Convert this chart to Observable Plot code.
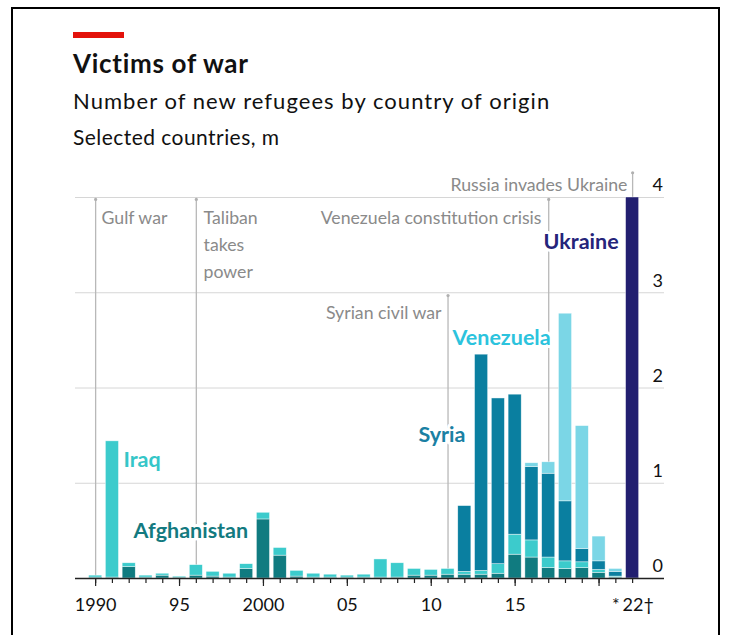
<!DOCTYPE html>
<html>
<head>
<meta charset="utf-8">
<script src="https://cdn.jsdelivr.net/npm/d3@7"></script>
<script src="https://cdn.jsdelivr.net/npm/@observablehq/plot@0.6"></script>
<style>
  body { margin: 0; background: #fff; font-family: Lato, "Noto Sans", sans-serif; }
  #wrap { position: relative; width: 735px; height: 635px; overflow: hidden; background: #fff; }
  #frame { position: absolute; left: 11px; top: 7px; width: 709px; height: 700px; border: 2px solid #000; box-sizing: border-box; }
  #red { position: absolute; left: 73px; top: 32px; width: 51px; height: 6px; background: #e3120b; }
  .t { position: absolute; left: 73px; line-height: 1; white-space: nowrap; color: #111; }
  #title { top: 50px; font-size: 26px; font-weight: 700; letter-spacing: 0.7px; }
  #sub { top: 90px; font-size: 22px; letter-spacing: 1.05px; }
  #sub2 { top: 126px; font-size: 21px; letter-spacing: 0.45px; }
  #chart { position: absolute; left: 0; top: 160px; }
</style>
</head>
<body>
<div id="wrap">
  <div id="frame"></div>
  <div id="red"></div>
  <div class="t" id="title">Victims of war</div>
  <div class="t" id="sub">Number of new refugees by country of origin</div>
  <div class="t" id="sub2">Selected countries, m</div>
  <div id="chart"></div>
</div>
<script>
// ---- data (millions of new refugees) ----
const years = [1990,1991,1992,1993,1994,1995,1996,1997,1998,1999,2000,2001,2002,2003,2004,2005,2006,2007,2008,2009,2010,2011,2012,2013,2014,2015,2016,2017,2018,2019,2020,2021,2022];
const afghanistan = [0.01,0.01,0.12,0.01,0.03,0.01,0.03,0.02,0.01,0.10,0.62,0.24,0.02,0.01,0.01,0.01,0.01,0.01,0.01,0.03,0.03,0.04,0.04,0.04,0.05,0.25,0.22,0.11,0.10,0.11,0.06,0.01,0];
const iraq        = [0.02,1.43,0.04,0.02,0.02,0.01,0.11,0.05,0.04,0.05,0.07,0.08,0.06,0.04,0.03,0.02,0.03,0.19,0.15,0.07,0.06,0.06,0.03,0.04,0.10,0.21,0.18,0.11,0.08,0.06,0.03,0.01,0];
const syria       = [0,0,0,0,0,0,0,0,0,0,0,0,0,0,0,0,0,0,0,0,0,0,0.69,2.27,1.74,1.47,0.77,0.88,0.63,0.14,0.09,0.05,0];
const venezuela   = [0,0,0,0,0,0,0,0,0,0,0,0,0,0,0,0,0,0,0,0,0,0,0,0,0,0,0.04,0.12,1.97,1.29,0.26,0.03,0];
const ukraine     = [0,0,0,0,0,0,0,0,0,0,0,0,0,0,0,0,0,0,0,0,0,0,0,0,0,0,0,0,0,0,0,0,4.0];

const countries = ["Afghanistan","Iraq","Syria","Venezuela","Ukraine"];
const countryColors = ["#107b80","#3ccbcc","#0a7fa0","#7bd6e6","#221f70"];
const labelColors   = ["#137a80","#35c6c8","#1a80a3","#2cc3dd","#25247a"];
const labelX = [1992.26,1991.66,2012.04,2011.27,2016.69];
const labelY = [0.50,1.24,1.51,2.52,3.53];
const labelAnchor = ["start","start","end","start","start"];

const events = ["Gulf war","Taliban\ntakes\npower","Syrian civil war","Venezuela constitution crisis","Russia invades Ukraine"];
const eventYears = [1990,1996,2011,2017,2022];
const eventTops = [3.98,3.98,2.97,3.98,4.26];
const eventTextX = [1990.35,1996.43,2010.61,2016.57,2021.69];
const eventTextY = [3.81,3.53,2.82,3.81,4.16];
const eventAnchor = ["start","start","end","end","end"];

const yTicks = [0,1,2,3,4];
const minorTicks = years;
const majorTicks = [1990,1995,2000,2005,2010,2015,2020];
const xLabelYears = [1990,1995,2000,2005,2010,2015,2021];
const xLabelTexts = ["1990","95","2000","05","10","15","*"];
const lastLabelYear = [2022];
const lastLabelText = ["22\u2020"];

// ---- build tables ----
const series = [afghanistan, iraq, syria, venezuela, ukraine];
const rows = years.flatMap((yr, i) => countries.map((c, j) => ({year: yr, country: c, value: series[j][i]})));
const evRows = events.map((e, i) => ({text: e, year: eventYears[i], top: eventTops[i], tx: eventTextX[i], ty: eventTextY[i], anchor: eventAnchor[i]}));
const labRows = countries.map((c, i) => ({text: c, x: labelX[i], y: labelY[i], anchor: labelAnchor[i], color: labelColors[i]}));
const xLabRows = xLabelYears.map((y, i) => ({year: y, text: xLabelTexts[i]}));

const grey = "#8a8a8a";
const evText = (anchor) => Plot.text(evRows.filter(d => d.anchor === anchor), {x: "tx", y: "ty", text: "text", textAnchor: anchor, lineHeight: 1.55, fontSize: 17.7, fill: grey, stroke: "white", strokeWidth: 4});
const labText = (anchor) => Plot.text(labRows.filter(d => d.anchor === anchor), {x: "x", y: "y", text: "text", textAnchor: anchor, fill: "color", fontSize: 21.5, fontWeight: 700, stroke: "white", strokeWidth: 6});

const chart = Plot.plot({
  width: 735,
  height: 460,
  marginLeft: 75,
  marginRight: 71,
  marginTop: 37,
  marginBottom: 42,
  style: {fontFamily: "Lato, 'Noto Sans', sans-serif", overflow: "visible", background: "transparent"},
  x: {type: "linear", domain: [1988.8, 2023.9], axis: null},
  y: {domain: [0, 4], axis: null},
  color: {domain: countries, range: countryColors},
  marks: [
    Plot.ruleY([1,2,3,4], {stroke: "#d6d6d6", strokeWidth: 1}),
    Plot.ruleX(evRows, {x: "year", y1: 0, y2: "top", stroke: "#b8b8b8", strokeWidth: 1.3}),
    Plot.dot(evRows, {x: "year", y: "top", r: 1.6, fill: "#b0b0b0"}),
    Plot.rectY(rows, {x1: d => d.year - 0.39, x2: d => d.year + 0.39, y: "value", fill: "country", stroke: "#ffffff", strokeWidth: 0.6, strokeOpacity: 0.7}),
    Plot.ruleY([0], {stroke: "#222", strokeWidth: 1.4}),
    Plot.axisX({ticks: minorTicks, tickSize: 5, tickFormat: () => "", stroke: "#222", strokeWidth: 1.2}),
    Plot.axisX({ticks: majorTicks, tickSize: 8, tickFormat: () => "", stroke: "#222", strokeWidth: 1.2}),
    Plot.text(xLabRows, {x: "year", y: 0, text: "text", dy: 27, fontSize: 18, fill: "#111"}),
    Plot.text(lastLabelYear, {x: d => d, y: 0, text: (d, i) => lastLabelText[i], dy: 27, dx: -10, textAnchor: "start", fontSize: 18, fill: "#111"}),
    Plot.text(yTicks, {y: d => d, frameAnchor: "right", text: d => String(d), dx: -12, dy: -12, textAnchor: "start", fontSize: 18, fill: "#111"}),
    evText("start"),
    evText("end"),
    labText("start"),
    labText("end")
  ]
});
document.getElementById("chart").appendChild(chart);
</script>
</body>
</html>
